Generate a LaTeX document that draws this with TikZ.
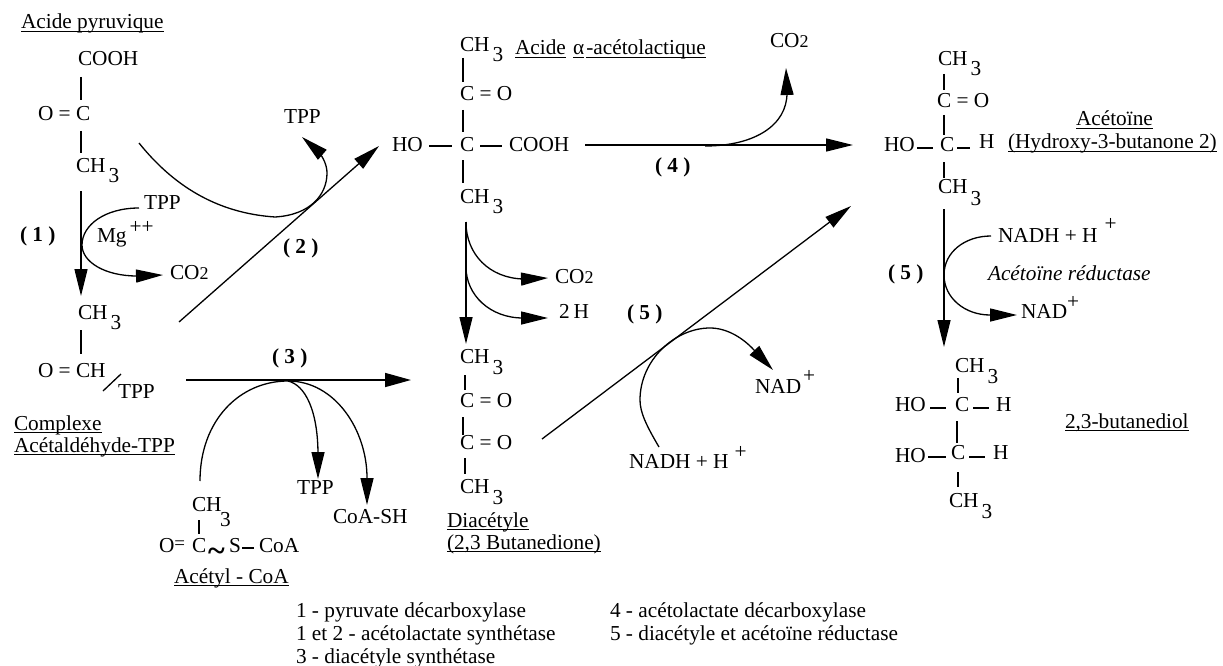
\documentclass[tikz,border=0pt]{standalone}
\usepackage{fontspec}
\setmainfont{Liberation Serif}
\usetikzlibrary{arrows.meta}
\newsavebox{\ulbox}
\newcommand{\ul}[1]{\sbox{\ulbox}{#1}\rlap{\rule[-3pt]{\wd\ulbox}{1.1pt}}\usebox{\ulbox}}
\newcommand{\chth}[1][10pt]{CH\kern3pt\raisebox{-#1}{3}}
\newcommand{\codeux}{CO{\fontsize{18}{18}\selectfont 2}}
\newcommand{\T}[4]{\node[lab] (#1) at (#2,#3) {#4};}
\newcommand{\bd}[5]{\coordinate (#1a) at (#2,#3); \coordinate (#1b) at (#4,#5); \draw[bond] (#1a) -- (#1b);}
\tikzset{
  lab/.style={inner sep=0pt,outer sep=0pt,anchor=base west,font=\fontsize{21.3}{21.3}\selectfont},
  bond/.style={line width=1.3pt,black},
  rx/.style={line width=1.3pt,black,-{Triangle[length=27pt,width=13pt]}},
  arcline/.style={line width=1.3pt,black}
}
\begin{document}
\begin{tikzpicture}[x=1pt,y=-1pt]
\useasboundingbox (0,0) rectangle (1223,666);
% ---- pyruvate
\T{pyr}{21}{29}{\ul{Acide pyruvique}}
\T{pa}{78}{66}{COOH}
\T{pb}{38}{121}{O = C}
\T{pc}{76}{172}{\chth}
\bd{b1}{81}{77}{81}{100}
\bd{b2}{81}{131}{81}{153}
\T{n1}{20}{241}{\bfseries ( 1 )}
\T{tppa}{144}{209}{TPP}
\T{mg}{97}{242}{Mg\raisebox{9pt}{\kern3pt++}}
\T{coa}{170}{279}{\codeux}
\coordinate (r1a) at (81,191); \coordinate (r1b) at (81,296);
\draw[rx] (r1a) -- (r1b);
\coordinate (c1a) at (139,208); \coordinate (c1b) at (82,245); \coordinate (c1c) at (163,275);
\draw[rx] (c1a) .. controls (105,208) and (82,225) .. (c1b) .. controls (82,262) and (105,276) .. (137,276) -- (c1c);
% ---- aldehyde complex
\T{qa}{78}{319}{\chth}
\bd{b3}{81}{330}{81}{354}
\T{qb}{38}{377}{O = CH}
\bd{b4}{103}{391}{121}{374}
\T{qc}{118}{398}{TPP}
\T{cpx}{14}{430}{\ul{Complexe}}
\T{cpy}{14}{452}{\ul{Acétaldéhyde-TPP}}
% ---- reaction 2
\T{n2}{283}{253}{\bfseries ( 2 )}
\T{tppb}{284}{124}{TPP}
\coordinate (r2a) at (179,322); \coordinate (r2b) at (379,146);
\draw[rx] (r2a) -- (r2b);
\coordinate (c2a) at (139,143); \coordinate (c2b) at (275,217); \coordinate (c2c) at (327,173); \coordinate (c2d) at (302,137);
\draw[rx] (c2a) .. controls (172,184) and (215,213) .. (c2b) .. controls (310,215) and (327,195) .. (c2c) .. controls (327,165) and (323,157) .. (318,151) -- (c2d);
% ---- reaction 3
\T{n3}{272}{363}{\bfseries ( 3 )}
\coordinate (r3a) at (186,380); \coordinate (r3b) at (411,380); \coordinate (r3m) at (288,381);
\draw[line width=1.6pt,-{Triangle[length=26pt,width=14pt]}] (r3a) -- (r3b);
\coordinate (c3a) at (200,481); \coordinate (c3b) at (318,479); \coordinate (c3c) at (367,505);
\draw[arcline] (c3a) .. controls (200,420) and (240,381) .. (r3m);
\draw[rx] (r3m) .. controls (305,385) and (318,410) .. (318,455) -- (c3b);
\draw[rx] (r3m) .. controls (335,381) and (367,430) .. (367,478) -- (c3c);
\T{tppc}{297}{494}{TPP}
\T{cosh}{333}{523}{CoA-SH}
% ---- acetyl CoA
\T{aca}{192}{511}{CH}
\T{acb}{220}{526}{3}
\bd{b5}{199}{520}{199}{534}
\T{acc}{159}{552}{O\raisebox{3pt}{\fontsize{19}{19}\selectfont =}}
\T{acd}{192}{552}{C}
\T{ace}{208}{561}{\fontsize{32}{32}\selectfont\bfseries \char"007E}
\T{acf}{229}{552}{S}
\bd{b6}{242}{548}{254}{548}
\T{acg}{259}{552}{CoA}
\T{ach}{174}{583}{\ul{Acétyl - CoA}}
% ---- acetolactate
\T{la}{460}{52}{\chth}
\T{lname}{515}{55}{\ul{Acide}\kern2pt\ \ul{α}\kern2pt\ul{-acétolactique}}
\bd{b7}{463}{58}{463}{82}
\T{lb}{460}{101}{C = O}
\bd{b8}{463}{110}{463}{132}
\T{lc}{392}{152}{HO}
\bd{b9}{429}{146}{452}{146}
\T{ld}{460}{152}{C}
\bd{b10}{480}{146}{502}{146}
\T{le}{509}{152}{COOH}
\bd{b11}{463}{160}{463}{183}
\T{lf}{460}{203}{\chth}
% ---- reaction 4
\coordinate (r4a) at (585,145); \coordinate (r4b) at (853,145);
\draw[rx] (r4a) -- (r4b);
\coordinate (c4a) at (705,146); \coordinate (c4b) at (786,68);
\draw[rx] (c4a) .. controls (755,146) and (787,125) .. (787,93) -- (c4b);
\T{cob}{770}{48}{\codeux}
\T{n4}{655}{172}{\bfseries ( 4 )}
% ---- acetolactate to diacetyl
\coordinate (r5a) at (466,222); \coordinate (r5b) at (466,344);
\draw[rx] (r5a) -- (r5b);
\coordinate (c5a) at (466,267); \coordinate (c5b) at (548,278); \coordinate (c5c) at (548,318);
\draw[rx] (r5a) .. controls (466,255) and (490,278) .. (523,279) -- (c5b);
\draw[rx] (c5a) .. controls (466,295) and (490,318) .. (523,318) -- (c5c);
\T{coc}{555}{283}{\codeux}
\T{twoh}{559}{318}{2\kern4pt H}
\T{n5a}{627}{319}{\bfseries ( 5 )}
% ---- diacetyl
\T{da}{460}{363}{\chth[11pt]}
\bd{b12}{465}{375}{465}{390}
\T{db}{460}{407}{C = O}
\bd{b13}{463}{417}{463}{435}
\T{dc}{460}{449}{C = O}
\bd{b14}{465}{458}{465}{474}
\T{dd}{460}{493}{\chth[11pt]}
\T{de}{447}{527}{\ul{Diacétyle}}
\T{df}{447}{549}{\ul{(2,3 Butanedione)}}
% ---- reaction 5 diagonal
\coordinate (r6a) at (542,439); \coordinate (r6b) at (851,206);
\draw[rx] (r6a) -- (r6b);
\coordinate (c6a) at (659,447); \coordinate (c6b) at (640,400); \coordinate (c6c) at (710,328); \coordinate (c6d) at (773,370);
\draw[rx] (c6a) .. controls (646,425) and (640,412) .. (c6b) .. controls (640,360) and (675,328) .. (c6c) .. controls (727,328) and (743,338) .. (754,350) -- (c6d);
\T{nad}{629}{468}{NADH + H\raisebox{10pt}{\kern6pt+}}
\T{nae}{755}{393}{NAD\raisebox{11pt}{\kern2pt+}}
% ---- acetoin
\T{ta}{938}{66}{\chth}
\bd{b15}{944}{74}{944}{90}
\T{tb}{937}{108}{C = O}
\bd{b16}{944}{115}{944}{135}
\T{tc}{884}{152}{HO}
\bd{b17}{917}{148}{933}{148}
\T{td}{940}{152}{C}
\bd{b18}{957}{148}{970}{148}
\T{te}{979}{149}{H}
\bd{b19}{944}{162}{944}{178}
\T{tf}{938}{193}{\chth[12pt]}
\T{tg}{1076}{126}{\ul{Acétoïne}}
\T{th}{1008}{149}{\ul{(Hydroxy-3-butanone 2)}}
% ---- reaction 5 right
\coordinate (r7a) at (944,209); \coordinate (r7b) at (944,347);
\draw[rx] (r7a) -- (r7b);
\coordinate (c7a) at (991,236); \coordinate (c7b) at (944,275); \coordinate (c7c) at (1017,315);
\draw[rx] (c7a) .. controls (965,236) and (944,252) .. (c7b) .. controls (944,298) and (965,315) .. (990,315) -- (c7c);
\T{nb}{998}{242}{NADH + H\raisebox{12pt}{\kern7pt+}}
\T{ital}{988}{280}{\itshape Acétoïne réductase}
\T{n5b}{888}{279}{\bfseries ( 5 )}
\T{nc}{1021}{318}{NAD\raisebox{10pt}{+}}
% ---- butanediol
\T{ua}{955}{372}{\chth[11pt]}
\bd{b20}{958}{378}{958}{393}
\T{ub}{895}{411}{HO}
\bd{b21}{930}{408}{946}{408}
\T{uc}{955}{411}{C}
\bd{b22}{973}{408}{989}{408}
\T{ud}{996}{411}{H}
\bd{b23}{957}{421}{957}{443}
\T{ue}{895}{462}{HO}
\bd{b24}{928}{457}{946}{457}
\T{uf}{951}{459}{C}
\bd{b25}{969}{457}{985}{457}
\T{ug}{993}{459}{H}
\bd{b26}{958}{472}{958}{487}
\T{uh}{949}{507}{\chth[11pt]}
\T{ui}{1065}{428}{\ul{2,3-butanediol}}
% ---- legend
\T{lga}{296}{617}{1 - pyruvate décarboxylase}
\T{lgb}{296}{640}{1 et 2 - acétolactate synthétase}
\T{lgc}{296}{663}{3 - diacétyle synthétase}
\T{lgd}{610}{617}{4 - acétolactate décarboxylase}
\T{lge}{610}{640}{5 - diacétyle et acétoïne réductase}
\end{tikzpicture}
\end{document}
